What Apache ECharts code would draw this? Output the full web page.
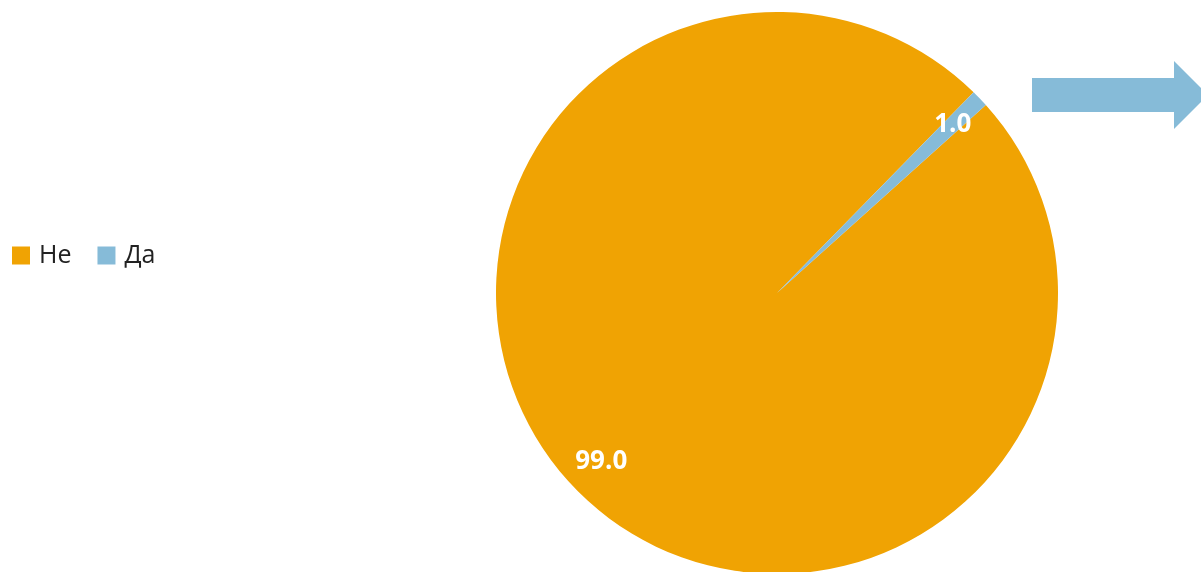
<!DOCTYPE html>
<html>
<head>
<meta charset="utf-8">
<script src="https://cdn.jsdelivr.net/npm/echarts@6/dist/echarts.min.js"></script>
<style>
    html, body { margin: 0; padding: 0; background: #fff; }
    #chart { width: 1201px; height: 572px; }
</style>
</head>
<body>
<div id="chart"></div>
<script>
// данни
const categories = ['Не', 'Да'];
const values = [99.0, 1.0];
const colors = ['#F0A303', '#86BBD8'];

const pieData = categories.map(function (name, i) {
    return { name: name, value: values[i], itemStyle: { color: colors[i] } };
});

const myChart = echarts.init(document.getElementById('chart'));

const option = {
    animation: false,
    legend: {
        data: categories,
        left: 12,
        top: 243,
        padding: 0,
        orient: 'horizontal',
        itemWidth: 18,
        itemHeight: 18,
        itemGap: 26,
        icon: 'rect',
        textStyle: {
            fontFamily: 'Open Sans',
            fontSize: 25,
            color: '#222',
            padding: [0, 0, 0, 4]
        }
    },
    graphic: [
        {
            // стрелка горе вдясно
            type: 'polygon',
            shape: {
                points: [[1032, 78], [1174, 78], [1174, 61], [1208, 95], [1174, 129], [1174, 112], [1032, 112]]
            },
            style: { fill: '#86BBD8' }
        }
    ],
    series: [
        {
            name: 'pie',
            type: 'pie',
            center: [777, 293],
            radius: [0, 281],
            startAngle: 42,
            clockwise: true,
            label: { show: false },
            labelLine: { show: false },
            emphasis: { disabled: true },
            data: pieData
        },
        {
            // прозрачен пръстен само за етикетите
            name: 'labels',
            type: 'pie',
            center: [777, 293],
            radius: [200, 281],
            startAngle: 42,
            clockwise: true,
            silent: true,
            itemStyle: { color: 'rgba(0,0,0,0)' },
            label: {
                show: true,
                position: 'inside',
                formatter: function (p) { return p.value.toFixed(1); },
                color: '#fff',
                fontFamily: 'Open Sans',
                fontWeight: 'bold',
                fontSize: 26
            },
            labelLine: { show: false },
            data: categories.map(function (name, i) {
                return { name: name, value: values[i] };
            })
        }
    ]
};

myChart.setOption(option);
</script>
</body>
</html>
